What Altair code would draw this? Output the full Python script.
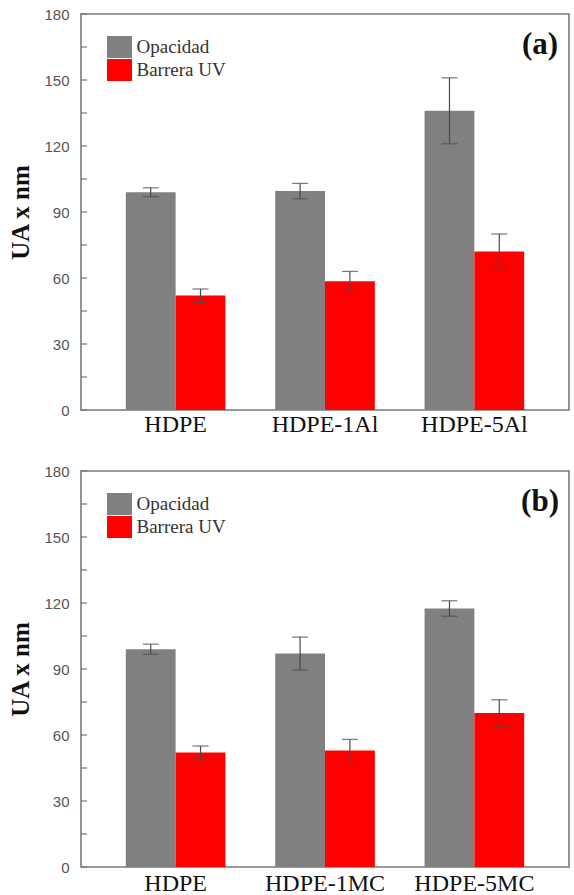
import altair as alt
import pandas as pd

# ---- data -------------------------------------------------------------
series = ["Opacidad", "Barrera UV"]
series_colors = ["#808080", "#ff0000"]

categories_a = ["HDPE", "HDPE-1Al", "HDPE-5Al"]
opacidad_a = [99.0, 99.5, 136.0]
opacidad_err_a = [2.0, 3.5, 15.0]
barrera_a = [52.0, 58.5, 72.0]
barrera_err_a = [3.0, 4.5, 8.0]

categories_b = ["HDPE", "HDPE-1MC", "HDPE-5MC"]
opacidad_b = [99.0, 97.0, 117.5]
opacidad_err_b = [2.3, 7.5, 3.5]
barrera_b = [52.0, 53.0, 70.0]
barrera_err_b = [3.0, 5.0, 6.0]

y_ticks_major = [0, 30, 60, 90, 120, 150, 180]
y_ticks_all = [0, 15, 30, 45, 60, 75, 90, 105, 120, 135, 150, 165, 180]

PLOT_W = 488
PLOT_H = 396


def build_table(categories, opac, opac_err, barr, barr_err):
    rows = []
    for c, v, e in zip(categories, opac, opac_err):
        rows.append({"muestra": c, "serie": series[0], "valor": v,
                     "lo": v - e, "hi": v + e})
    for c, v, e in zip(categories, barr, barr_err):
        rows.append({"muestra": c, "serie": series[1], "valor": v,
                     "lo": v - e, "hi": v + e})
    return pd.DataFrame(rows)


def panel(categories, opac, opac_err, barr, barr_err, tag, label_pad):
    df = build_table(categories, opac, opac_err, barr, barr_err)

    x = alt.X("muestra:N", sort=categories,
              scale=alt.Scale(paddingInner=0.333, paddingOuter=0.30),
              axis=alt.Axis(title=None, ticks=False, domain=False,
                            labelAngle=0, labelFont="Liberation Serif",
                            labelFontSize=24, labelColor="#111111",
                            labelPadding=label_pad))
    xo = alt.XOffset("serie:N", sort=series,
                     scale=alt.Scale(domain=series, paddingInner=0, paddingOuter=0))
    yscale = alt.Scale(domain=[0, 180], nice=False, zero=True)

    base = alt.Chart(df)

    bars = base.mark_bar(stroke=None).encode(
        x=x,
        xOffset=xo,
        y=alt.Y("valor:Q", scale=yscale,
                axis=alt.Axis(title="UA x nm", values=y_ticks_major,
                              grid=False, ticks=False, domain=False,
                              labelFont="Liberation Sans", labelFontSize=15,
                              labelColor="#555555", labelPadding=12,
                              titleFont="Liberation Serif", titleFontSize=25,
                              titleFontWeight="bold", titleColor="#111111",
                              titlePadding=10)),
        color=alt.Color("serie:N", sort=series,
                        scale=alt.Scale(domain=series, range=series_colors),
                        legend=alt.Legend(
                            title=None, orient="none",
                            legendX=27.5, legendY=22, padding=0,
                            symbolType="M-1.136,-1H1.136V1H-1.136Z",
                            symbolSize=484, symbolStrokeWidth=0,
                            symbolOpacity=1, rowPadding=1,
                            labelFont="Liberation Serif", labelFontSize=19,
                            labelColor="#333333", labelOffset=6)),
    )

    err = base.mark_rule(color="#4a4a4a", strokeWidth=1.2).encode(
        x=x, xOffset=xo, y=alt.Y("lo:Q", scale=yscale), y2="hi:Q")
    cap_hi = base.mark_tick(color="#4a4a4a", thickness=1.3, size=16).encode(
        x=x, xOffset=xo, y=alt.Y("hi:Q", scale=yscale))
    cap_lo = base.mark_tick(color="#4a4a4a", thickness=1.3, size=16).encode(
        x=x, xOffset=xo, y=alt.Y("lo:Q", scale=yscale))

    # inward ticks on the left frame (major and minor)
    ticks = alt.Chart(pd.DataFrame({"t": y_ticks_all})).mark_rule(
        color="#777777", strokeWidth=1.2).encode(
        y=alt.Y("t:Q", scale=yscale), x=alt.value(0), x2=alt.value(6))

    tag_text = alt.Chart(pd.DataFrame({"tag": [tag]})).mark_text(
        font="Liberation Serif", fontSize=31, fontWeight="bold",
        color="#111111", align="center", baseline="middle").encode(
        text="tag:N", x=alt.value(459), y=alt.value(31))

    return alt.layer(bars, err, cap_hi, cap_lo, ticks, tag_text).properties(
        width=PLOT_W, height=PLOT_H)


top = panel(categories_a, opacidad_a, opacidad_err_a, barrera_a, barrera_err_a,
            "(a)", 2)
bottom = panel(categories_b, opacidad_b, opacidad_err_b, barrera_b, barrera_err_b,
               "(b)", 4)

chart = alt.vconcat(top, bottom, spacing=26).resolve_scale(
    x="independent", y="independent", color="independent",
    xOffset="independent").configure(
    padding={"left": 8, "top": 6, "right": 0, "bottom": 0},
    background="white").configure_view(
    stroke="#7a7a7a", strokeWidth=1.6)

chart.save("out.html", embed_options={"renderer": "svg", "actions": False})
